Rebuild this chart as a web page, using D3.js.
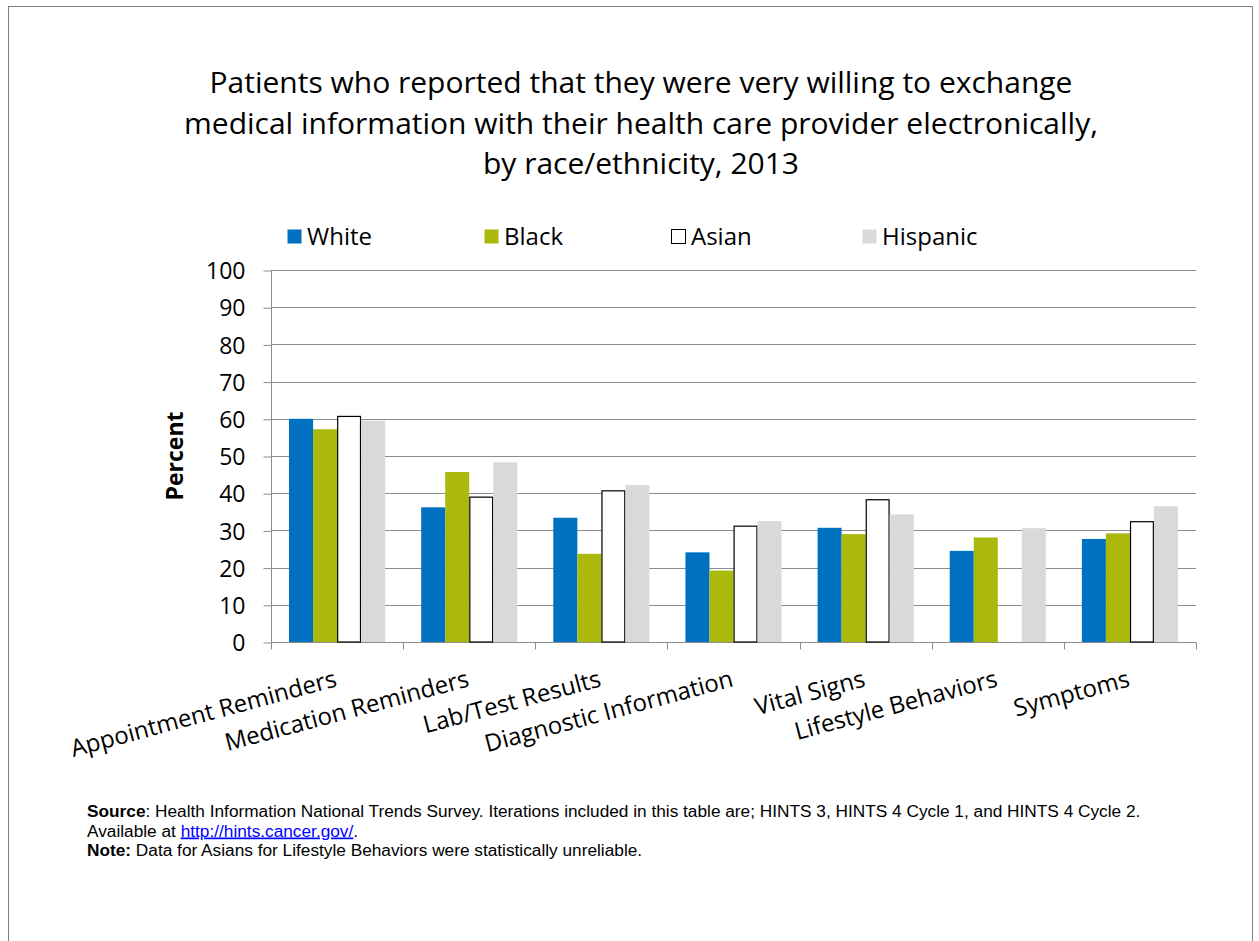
<!DOCTYPE html>
<html><head><meta charset="utf-8">
<script src="https://cdn.jsdelivr.net/npm/d3@7"></script>
<style>body{margin:0;background:#fff;} svg{display:block;}</style>
</head><body>
<svg id="c" width="1259" height="941"></svg>
<script>
const categories = ["Appointment Reminders","Medication Reminders","Lab/Test Results","Diagnostic Information","Vital Signs","Lifestyle Behaviors","Symptoms"];
const seriesNames = ["White","Black","Asian","Hispanic"];
const white    = [60.0, 36.2, 33.4, 24.1, 30.7, 24.5, 27.7];
const black    = [57.2, 45.7, 23.7, 19.2, 29.0, 28.1, 29.2];
const asian    = [60.8, 39.1, 40.8, 31.3, 38.4, null, 32.5];
const hispanic = [59.5, 48.3, 42.2, 32.5, 34.3, 30.6, 36.5];
const yTicks = [0,10,20,30,40,50,60,70,80,90,100];
const titleLines = ["Patients who reported that they were very willing to exchange","medical information with their health care provider electronically,","by race/ethnicity, 2013"];

const seriesValues = [white, black, asian, hispanic];
const fills = ["#0070C0","#AAB90B","#FFFFFF","#D9D9D9"];

const svg = d3.select("#c");
const font = "'Open Sans', Lato, sans-serif";

svg.append("rect").attr("x",8.5).attr("y",6.5).attr("width",1244).attr("height",960)
  .attr("fill","none").attr("stroke","#7f7f7f").attr("stroke-width",1);

// title
svg.append("g").selectAll("text").data(titleLines).join("text")
  .attr("x",641).attr("y",(d,i)=>93+i*40.7)
  .attr("text-anchor","middle").attr("font-family",font).attr("font-size",30).attr("fill","#000")
  .text(d=>d);

const m = {left:271, right:1196, top:270, bottom:642};
const x = d3.scaleBand().domain(categories).range([m.left,m.right]).paddingInner(0).paddingOuter(0);
const y = d3.scaleLinear().domain([0,100]).range([m.bottom,m.top]);
const xs = d3.scaleBand().domain(seriesNames).range([0,x.bandwidth()]).paddingInner(0).paddingOuter(0.75);

// gridlines
svg.append("g").selectAll("line").data(yTicks.filter(d=>d>0)).join("line")
  .attr("x1",m.left).attr("x2",m.right).attr("y1",d=>Math.round(y(d))+0.5).attr("y2",d=>Math.round(y(d))+0.5)
  .attr("stroke","#8c8c8c").attr("stroke-width",1);

// y axis
const yAxis = svg.append("g").attr("transform",`translate(${m.left+0.5},0.5)`)
  .call(d3.axisLeft(y).tickValues(yTicks).tickSize(8).tickPadding(18));
yAxis.selectAll("path,line").attr("stroke","#8c8c8c");
yAxis.select(".domain").attr("d",`M0,${m.top}V${m.bottom}`);
yAxis.selectAll("text").attr("font-family",font).attr("font-size",23).attr("fill","#000").attr("dy","0.36em");

// x axis
const xAxis = svg.append("g").attr("transform",`translate(0.5,${m.bottom+0.5})`);
xAxis.append("line").attr("x1",m.left).attr("x2",m.right).attr("stroke","#8c8c8c");
xAxis.selectAll("line.t").data(d3.range(categories.length+1)).join("line").attr("class","t")
  .attr("x1",i=>Math.round(m.left+i*x.step())).attr("x2",i=>Math.round(m.left+i*x.step()))
  .attr("y1",0).attr("y2",7).attr("stroke","#8c8c8c");

// bars
categories.forEach((c,ci)=>{
  seriesNames.forEach((s,si)=>{
    const v = seriesValues[si][ci];
    if(v==null) return;
    const bx = x(c)+xs(s);
    const isA = si===2;
    svg.append("rect")
      .attr("x", bx + (isA?0.6:0)).attr("y", y(v)+(isA?0.6:0))
      .attr("width", xs.bandwidth()-(isA?1.2:0)).attr("height", y(0)-y(v)-(isA?0.6:0))
      .attr("fill",fills[si]).attr("stroke",isA?"#000":"none").attr("stroke-width",isA?1.2:0);
  });
});

// x labels
svg.append("g").selectAll("text").data(categories).join("text")
  .attr("transform",d=>`translate(${x(d)+x.bandwidth()/2+1},${m.bottom+44}) rotate(-15)`)
  .attr("text-anchor","end").attr("font-family",font).attr("font-size",24).attr("fill","#000")
  .text(d=>d);

// y title
svg.append("text").attr("transform",`translate(183,${(m.top+m.bottom)/2}) rotate(-90)`)
  .attr("text-anchor","middle").attr("font-family",font).attr("font-size",23).attr("font-weight","bold")
  .text("Percent");

// legend
const legX = [287, 484, 671, 862];
const lg = svg.append("g");
seriesNames.forEach((s,i)=>{
  lg.append("rect").attr("x",legX[i]+0.5).attr("y",229.5).attr("width",14).attr("height",14)
    .attr("fill",fills[i]).attr("stroke",i==2?"#000":"none").attr("stroke-width",1);
  lg.append("text").attr("x",legX[i]+20).attr("y",245).attr("font-family",font).attr("font-size",24).text(s);
});

// footer
const ff = "'Liberation Sans', Arial, sans-serif";
const fs = 17.25;
const f1 = svg.append("text").attr("x",87).attr("y",817).attr("font-family",ff).attr("font-size",fs);
f1.append("tspan").attr("font-weight","bold").text("Source");
f1.append("tspan").text(": Health Information National Trends Survey.  Iterations included in this table are; HINTS 3, HINTS 4 Cycle 1, and HINTS 4 Cycle 2.");
const f2 = svg.append("text").attr("x",87).attr("y",836.5).attr("font-family",ff).attr("font-size",fs);
f2.append("tspan").text("Available at  ");
f2.append("tspan").attr("fill","#0000FF").attr("text-decoration","underline").text("http://hints.cancer.gov/");
f2.append("tspan").text(".");
const f3 = svg.append("text").attr("x",87).attr("y",856).attr("font-family",ff).attr("font-size",fs);
f3.append("tspan").attr("font-weight","bold").text("Note:");
f3.append("tspan").text(" Data for Asians for Lifestyle Behaviors were statistically unreliable.");
</script>
</body></html>
